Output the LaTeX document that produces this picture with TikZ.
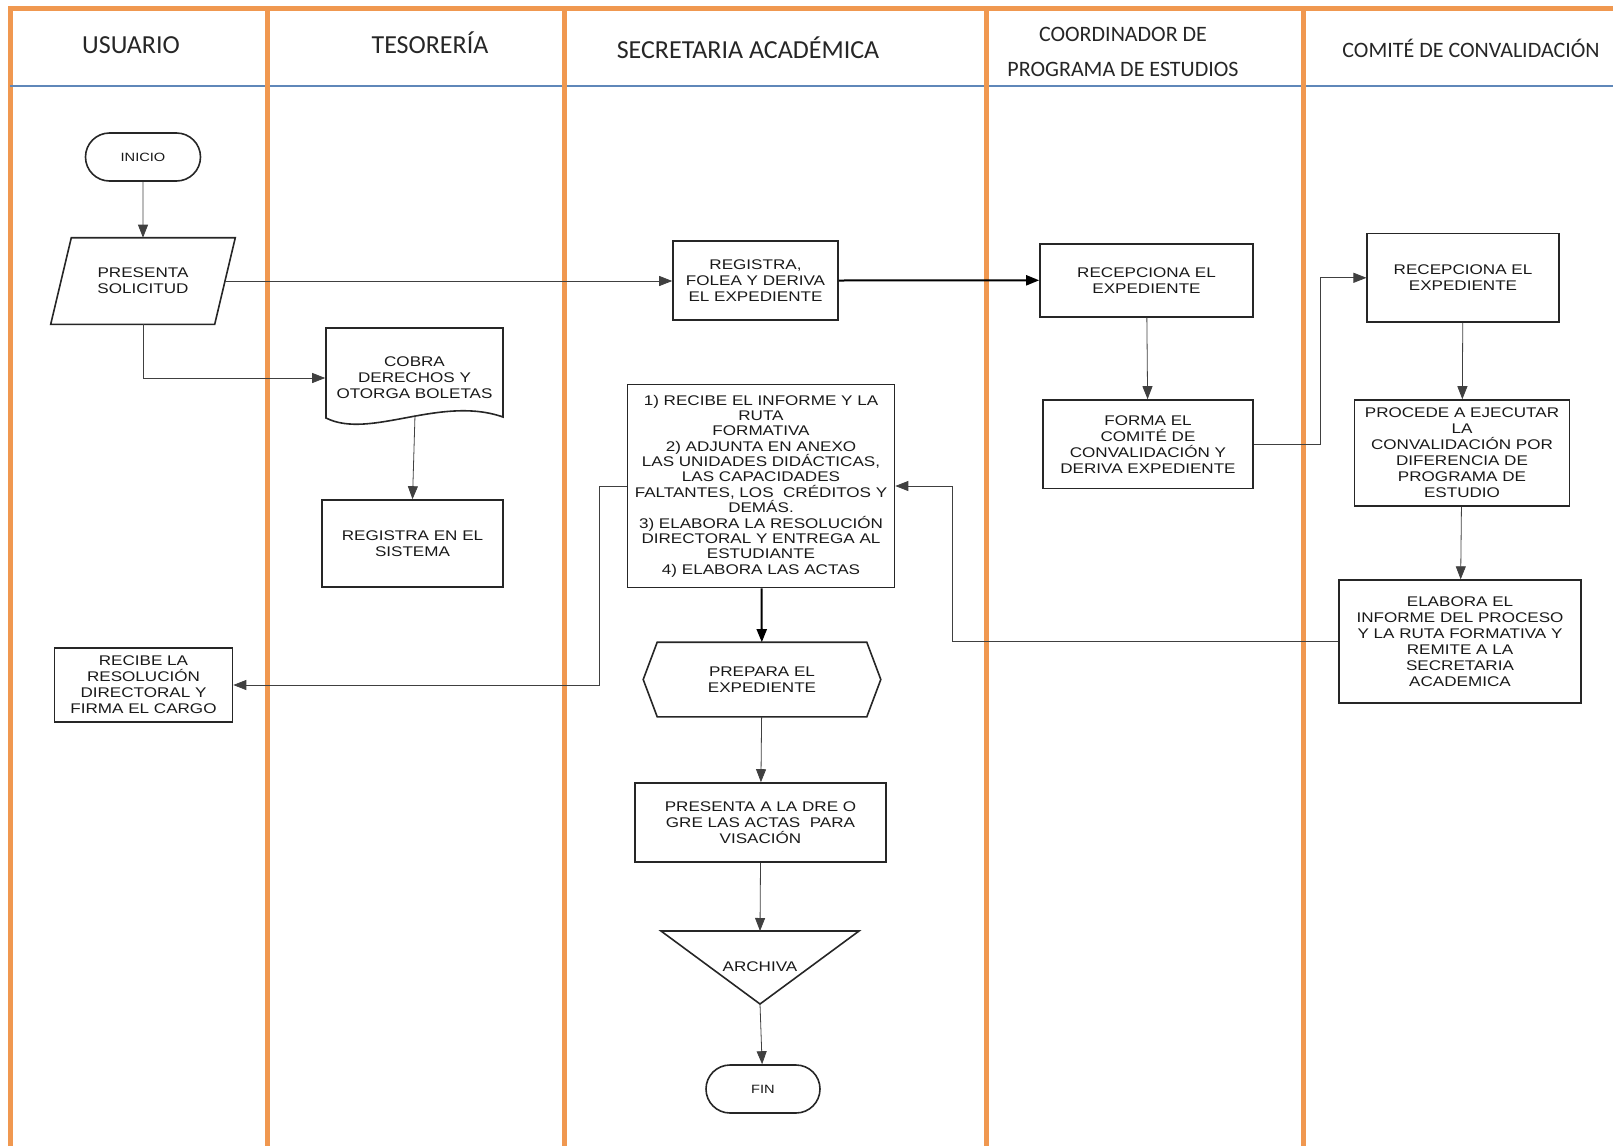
\documentclass[tikz,border=0pt]{standalone}
\usepackage{fontspec}
\setmainfont{Liberation Sans}
\newfontfamily\boxfont{Liberation Sans}[FakeStretch=1.22]
\newfontfamily\headfont{Carlito}
\usetikzlibrary{arrows.meta,shapes.misc,calc}
\definecolor{lanecolor}{RGB}{240,152,80}
\definecolor{headline}{RGB}{95,135,185}
\tikzset{
  lane/.style={lanecolor, line width=5pt},
  head/.style={font=\headfont\fontsize{26}{30}\selectfont, text=black!85},
  smallhead/.style={head, font=\headfont\fontsize{22}{26}\selectfont},
  outline/.style={draw=black!85, line width=1.6pt},
  box/.style={outline, align=center, inner sep=1pt, text=black!90, font=\boxfont\fontsize{14}{16}\selectfont},
  ghost/.style={box, draw=none},
  term/.style={box, rounded rectangle, minimum width=117pt, minimum height=48pt, font=\boxfont\fontsize{12}{14}\selectfont},
  flow/.style={-{Triangle[length=13pt,width=10pt]}, draw=black!75, line width=0.8pt},
  mainflow/.style={flow, draw=black, line width=2pt},
}
\begin{document}
\begin{tikzpicture}[x=1pt,y=-1pt]
    \useasboundingbox (0,0) rectangle (1613,1146);

    % calles
    \draw[lane] (10,1146) -- (10,8) -- (1613,8);
    \draw[headline, line width=2pt] (10,86) -- (1613,86);
    \foreach \x in {267,564,986,1303}
        \draw[lane] (\x,8) -- (\x,1146);

    \node[head] (husuario) at (131,45) {USUARIO};
    \node[head] (htesoreria) at (430,43) {TESORERÍA};
    \node[head] (hsecretaria) at (748,48) {SECRETARIA ACADÉMICA};
    \node[smallhead] (hcoordA) at (1123,34) {COORDINADOR DE};
    \node[smallhead] (hcoordB) at (1123,69) {PROGRAMA DE ESTUDIOS};
    \node[smallhead] (hcomite) at (1471,48) {COMITÉ DE CONVALIDACIÓN};

    % usuario
    \node[term] (inicio) at (143,157) {INICIO};
    \node[ghost, minimum width=183pt, minimum height=85pt] (solicitud) at (143,281) {PRESENTA\\SOLICITUD};
    \draw[outline] ($(solicitud.north west)+(20.6,0)$) -- (solicitud.north east)
        -- ($(solicitud.south east)+(-20.6,0)$) -- (solicitud.south west) -- cycle;
    \coordinate (solicitud-e) at ($(solicitud.east)+(-10.3,0)$);
    \node[box, minimum width=178pt, minimum height=74pt] (recibe) at (143.5,685) {RECIBE LA\\RESOLUCIÓN\\DIRECTORAL Y\\FIRMA EL CARGO};

    % tesoreria
    \node[ghost, minimum width=177pt] (cobra) at (414.5,378) {COBRA\\DERECHOS Y\\OTORGA BOLETAS};
    \draw[outline] (326,418) -- (326,328) -- (503,328) -- (503,417)
        .. controls (440,395) and (370,440) .. (326,418) -- cycle;
    \coordinate (cobra-s) at (415,415);
    \node[box, minimum width=181pt, minimum height=87pt] (sistema) at (412.5,543.5) {REGISTRA EN EL\\SISTEMA};

    % secretaria academica
    \node[box, minimum width=165pt, minimum height=79pt] (registra) at (755.5,280.5) {REGISTRA,\\FOLEA Y DERIVA\\EL EXPEDIENTE};
    \node[box, minimum width=267pt, minimum height=203pt, font=\boxfont\fontsize{14}{15.35}\selectfont] (informe) at (761,486)
        {1) RECIBE EL INFORME Y LA\\RUTA\\FORMATIVA\\2) ADJUNTA EN ANEXO\\LAS UNIDADES DIDÁCTICAS,\\LAS CAPACIDADES\\FALTANTES, LOS~~CRÉDITOS Y\\DEMÁS.\\3) ELABORA LA RESOLUCIÓN\\DIRECTORAL Y ENTREGA AL\\ESTUDIANTE\\4) ELABORA LAS ACTAS};
    \node[ghost, minimum width=236pt, minimum height=73pt] (prepara) at (762,679.5) {PREPARA EL\\EXPEDIENTE};
    \draw[outline] ($(prepara.north west)+(14,0)$) -- ($(prepara.north east)+(-14,0)$) -- (prepara.east)
        -- ($(prepara.south east)+(-14,0)$) -- ($(prepara.south west)+(14,0)$) -- (prepara.west) -- cycle;
    \node[box, minimum width=251pt, minimum height=79pt] (dre) at (760.5,822.5) {PRESENTA A LA DRE O\\GRE LAS ACTAS~~PARA\\VISACIÓN};
    \node[ghost] (archiva) at (760,967) {ARCHIVA};
    \coordinate (archiva-n) at (760,931);
    \coordinate (archiva-s) at (760,1004);
    \draw[outline] (661,931) -- (859,931) -- (archiva-s) -- cycle;
    \node[term, minimum width=116pt] (fin) at (763,1089) {FIN};

    % coordinador
    \node[box, minimum width=213pt, minimum height=73pt] (recepcoord) at (1146.5,280.3) {RECEPCIONA EL\\EXPEDIENTE};
    \node[box, minimum width=210pt, minimum height=88.6pt] (forma) at (1148,444.3) {FORMA EL\\COMITÉ DE\\CONVALIDACIÓN Y\\DERIVA EXPEDIENTE};

    % comite
    \node[box, minimum width=191.5pt, minimum height=88.5pt] (recepcomite) at (1463,277.8) {RECEPCIONA EL\\EXPEDIENTE};
    \node[box, minimum width=215pt, minimum height=106pt] (procede) at (1462,453) {PROCEDE A EJECUTAR\\LA\\CONVALIDACIÓN POR\\DIFERENCIA DE\\PROGRAMA DE\\ESTUDIO};
    \node[box, minimum width=242pt, minimum height=122.6pt] (elabora) at (1460,641.4) {ELABORA EL\\INFORME DEL PROCESO\\Y LA RUTA FORMATIVA Y\\REMITE A LA\\SECRETARIA\\ACADEMICA};

    % flechas
    \draw[flow] (inicio) -- (solicitud);
    \draw[flow] (solicitud-e) -- (solicitud-e -| registra.west);
    \draw[flow] (solicitud.south) |- (cobra.west);
    \draw[flow] (cobra-s) -- (sistema.north);
    \draw[mainflow] (registra.east) -- (recepcoord.west);
    \draw[flow] (recepcoord) -- (forma);
    \draw[flow] (forma.east) -- ++(67,0) |- (recepcomite.west);
    \draw[flow] (recepcomite) -- (procede);
    \draw[flow] (procede) -- (elabora);
    \draw[flow] (elabora.west) -- ++(-386,0) |- (informe.east);
    \draw[flow] (informe.west) -- ++(-27,0) |- (recibe.east);
    \draw[mainflow] (informe) -- (prepara);
    \draw[flow] (prepara) -- (dre);
    \draw[flow] (dre.south) -- (archiva-n);
    \draw[flow] (archiva-s) -- (fin);
\end{tikzpicture}
\end{document}
